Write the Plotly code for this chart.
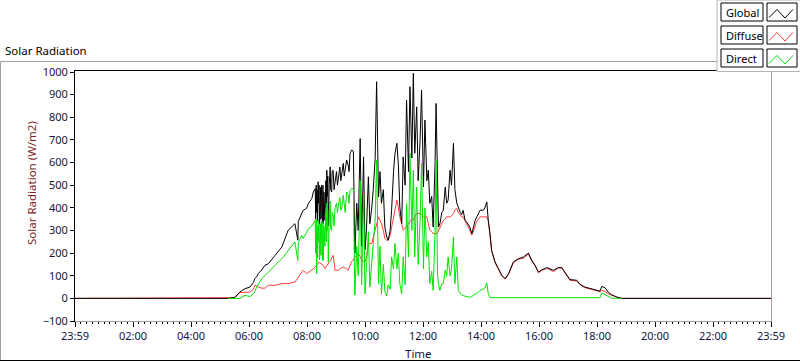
import plotly.graph_objects as go

# ---------------- data ----------------
times = ["00:00","05:17","05:31","05:41","05:52","06:02","06:09","06:12","06:16","06:19","06:26","06:33","06:40","06:50","06:54","07:08","07:21","07:35","07:41","07:42","07:49","07:52","07:59","08:03","08:10",
         "08:13","08:17","08:18","08:19","08:20","08:21","08:22","08:23","08:24","08:25","08:26","08:27","08:28","08:29","08:30","08:31","08:32","08:33","08:34","08:35","08:36","08:37","08:39","08:40","08:41","08:42","08:43","08:44","08:46","08:48","08:49","08:51","08:52","08:54","08:56","08:58","09:01","09:03","09:05","09:08","09:10","09:12","09:15","09:17","09:19","09:22","09:25","09:27","09:29","09:32","09:36",
         "09:39","09:43","09:46","09:50","09:53","09:57",
         "10:00","10:03","10:07","10:10","10:14","10:17","10:21","10:24","10:28","10:31","10:34","10:38","10:41","10:45","10:48","10:52","10:55","10:59",
         "11:02","11:06","11:09","11:12","11:16","11:19","11:23","11:26","11:30","11:33","11:37","11:40","11:43","11:47","11:50","11:54","11:57",
         "12:01","12:04","12:08","12:11","12:14","12:18","12:21","12:25","12:27","12:30","12:32","12:35","12:39","12:42","12:46","12:49","12:52","12:56","12:59",
         "13:03","13:06","13:10","13:13","13:17","13:20","13:23","13:27","13:30","13:37","13:41","13:48","13:51","13:58",
         "14:05","14:08","14:12","14:15","14:19","14:22","14:29","14:36","14:43","14:50","14:57",
         "15:07","15:17","15:28","15:38","15:45","15:52","15:59",
         "16:06","16:12","16:16","16:30","16:40","16:47","16:54",
         "17:04","17:18","17:25","17:35","17:49","17:59",
         "18:06","18:10","18:17","18:23","18:30","18:41","18:51",
         "23:59"]

global_rad = [0,0,5,28,43,50,70,87,95,109,125,146,153,183,190,227,301,330,257,340,370,389,397,420,441,
              470,485,350,500,380,480,340,515,420,500,330,360,490,350,500,420,330,500,330,470,380,345,520,400,566,450,540,320,500,581,480,470,560,566,480,522,560,500,545,580,520,545,596,540,580,611,590,560,640,655,650,
              198,420,300,706,230,625,
              215,300,537,330,400,480,618,957,448,560,420,480,315,271,257,300,389,560,
              640,685,590,404,330,625,500,876,560,935,620,994,641,846,520,700,920,
              492,788,520,566,420,450,315,600,861,400,315,330,380,389,492,420,434,566,500,
              685,480,420,400,380,370,389,345,338,315,286,345,360,389,
              390,400,426,345,280,212,161,131,102,87,109,
              161,175,183,200,168,146,116,
              127,131,136,124,136,136,116,
              83,80,62,50,43,38,
              32,53,46,28,16,6,0,
              0]

diffuse_rad = [0,0,3,25,28,28,40,58,55,50,45,45,58,58,58,65,65,72,90,94,110,124,109,115,124,
               130,139,142,145,150,152,155,161,160,158,157,155,153,152,150,149,148,147,146,140,135,131,138,142,145,148,150,153,160,165,170,175,180,190,160,124,124,124,124,130,132,135,139,137,135,130,124,135,145,161,170,
               183,190,198,185,170,161,
               161,180,242,242,242,270,301,330,360,345,330,300,264,257,257,280,315,360,
               404,434,400,360,330,301,310,320,330,338,350,345,360,375,375,375,370,
               360,360,360,330,301,295,286,286,286,290,300,315,330,345,350,360,360,360,365,
               375,390,397,380,370,360,360,338,330,301,279,320,340,360,
               360,360,360,345,278,210,158,128,100,85,107,
               158,172,178,196,164,143,113,
               124,128,133,118,134,134,112,
               80,76,60,47,40,35,
               30,35,30,20,14,5,0,
               0]

# direct radiation is only logged during daylight (None = no sample)
direct_rad = [None,0,0,0,13,8,21,30,50,60,87,100,116,135,146,175,212,249,168,245,279,265,290,308,320,
              330,345,200,350,109,320,180,345,250,330,170,200,330,190,340,260,168,340,168,320,240,230,380,250,420,300,390,160,340,430,310,300,380,370,320,400,420,380,410,445,390,400,455,400,380,470,460,420,475,485,485,
              15,230,100,520,60,460,
              20,120,295,50,150,210,345,611,65,230,20,150,30,10,60,40,183,130,
              242,130,200,65,20,183,60,419,183,640,300,566,183,492,150,345,596,
              130,400,183,250,65,120,35,300,611,110,65,35,65,65,124,100,183,100,130,
              271,65,183,35,20,15,12,9,8,5,8,20,20,35,
              40,45,68,20,3,3,3,3,3,3,3,
              3,3,3,3,3,3,3,
              3,3,3,5,5,5,5,
              3,3,3,3,3,3,
              3,24,16,8,1,0,0,
              None]

tick_positions = [0, 120, 240, 360, 480, 600, 720, 840, 960, 1080, 1200, 1320, 1440]
tick_labels = ["23:59", "02:00", "04:00", "06:00", "08:00", "10:00", "12:00",
               "14:00", "16:00", "18:00", "20:00", "22:00", "23:59"]
y_ticks = [-100, 0, 100, 200, 300, 400, 500, 600, 700, 800, 900, 1000]

series_names = ["Global", "Diffuse", "Direct"]
series_colors = ["#000000", "#ff3b3b", "#00e400"]


def to_minutes(t):
    h, m = t.split(":")
    return int(h) * 60 + int(m)


x_min = [to_minutes(t) for t in times]
if times[-1] == "23:59":
    x_min[-1] = 1440

n = min(len(x_min), len(global_rad), len(diffuse_rad), len(direct_rad))

# ---------------- layout geometry (pixels) ----------------
W, H = 800, 361
L, R, T, B = 75, 29, 72, 40
PW = W - L - R
PH = H - T - B


def px(xp):
    return (xp - L) / PW


def py(yp):
    return (H - B - yp) / PH


FONT = "Noto Sans"
TICK_COLOR = "#14143c"

fig = go.Figure()
data_map = {"Global": global_rad, "Diffuse": diffuse_rad, "Direct": direct_rad}
for name in ["Diffuse", "Global", "Direct"]:
    color = series_colors[series_names.index(name)]
    fig.add_trace(go.Scatter(x=x_min[:n], y=data_map[name][:n], mode="lines", name=name,
                             line=dict(color=color, width=1), connectgaps=False,
                             showlegend=False, hoverinfo="skip"))

shapes = []


def line(x0, y0, x1, y1, color, width=1):
    shapes.append(dict(type="line", xref="paper", yref="paper",
                       x0=px(x0), y0=py(y0), x1=px(x1), y1=py(y1),
                       line=dict(color=color, width=width)))


def rect(x0, y0, x1, y1, color, fill="white", width=1):
    shapes.append(dict(type="rect", xref="paper", yref="paper",
                       x0=px(x0), y0=py(y0), x1=px(x1), y1=py(y1),
                       line=dict(color=color, width=width), fillcolor=fill))


# outer frame
line(0.5, 61.5, 717, 61.5, "#a0a0a0")
line(0.5, 61.5, 0.5, 360.5, "#a0a0a0")
line(0, 360.5, 800, 360.5, "#000000")
# plot frame
line(75, 70.5, 772, 70.5, "#000000")
line(74.5, 70, 74.5, 322, "#000000")
line(771.5, 70, 771.5, 322, "#a0a0a0")
line(75, 321.5, 772, 321.5, "#a0a0a0")

# legend panel
rect(717, 0, 800.5, 71.5, "#b4b4b4")
annotations = []
for i, name in enumerate(series_names):
    top = 3 + 23 * i
    rect(721, top, 763, top + 18, "#000000")
    rect(767, top, 797, top + 18, "#000000")
    pts = [(769, top + 14.5), (777, top + 6.5), (785, top + 15), (793, top + 6.5)]
    path = "M " + " L ".join(f"{px(a):.5f},{py(b):.5f}" for a, b in pts)
    shapes.append(dict(type="path", xref="paper", yref="paper", path=path,
                       line=dict(color=series_colors[i], width=1)))
    annotations.append(dict(text=name, xref="paper", yref="paper",
                            x=px(723.5), y=py(top + 9.5), xanchor="left",
                            yanchor="middle", showarrow=False,
                            font=dict(family=FONT, size=11, color="#000000")))

annotations.append(dict(text="Solar Radiation", xref="paper", yref="paper",
                        x=px(3), y=py(50), xanchor="left", yanchor="middle",
                        showarrow=False, font=dict(family=FONT, size=11.5, color="#000000")))
annotations.append(dict(text="Solar Radiation (W/m2)", xref="paper", yref="paper",
                        x=px(31), y=py(183), xanchor="center", yanchor="middle",
                        textangle=-90, showarrow=False,
                        font=dict(family=FONT, size=11.5, color="#7e1e1e")))
annotations.append(dict(text="Time", xref="paper", yref="paper",
                        x=px(418), y=py(353), xanchor="center", yanchor="middle",
                        showarrow=False, font=dict(family=FONT, size=11.5, color="#14143c")))

fig.update_layout(
    width=W, height=H,
    margin=dict(l=L, r=R, t=T, b=B, pad=0),
    paper_bgcolor="white", plot_bgcolor="white",
    showlegend=False,
    shapes=shapes, annotations=annotations,
    font=dict(family=FONT, size=11, color=TICK_COLOR),
    xaxis=dict(range=[0, 1440], tickmode="array", tickvals=tick_positions,
               ticktext=tick_labels, ticks="outside", ticklen=5, tickcolor="#000000",
               showgrid=False, zeroline=False, showline=False,
               tickfont=dict(family=FONT, size=11, color=TICK_COLOR),
               minor=dict(tickmode="linear", tick0=0, dtick=12, ticks="outside",
                          ticklen=2, tickcolor="#000000", showgrid=False)),
    yaxis=dict(range=[-100, 1000], tickmode="array", tickvals=y_ticks,
               ticks="outside", ticklen=4, tickcolor="#000000",
               showgrid=False, zeroline=False, showline=False,
               tickfont=dict(family=FONT, size=11, color=TICK_COLOR)),
)

fig.write_html("out.html", config={"displayModeBar": False},
               post_script="document.body.style.margin='0';document.body.style.overflow='hidden';")
